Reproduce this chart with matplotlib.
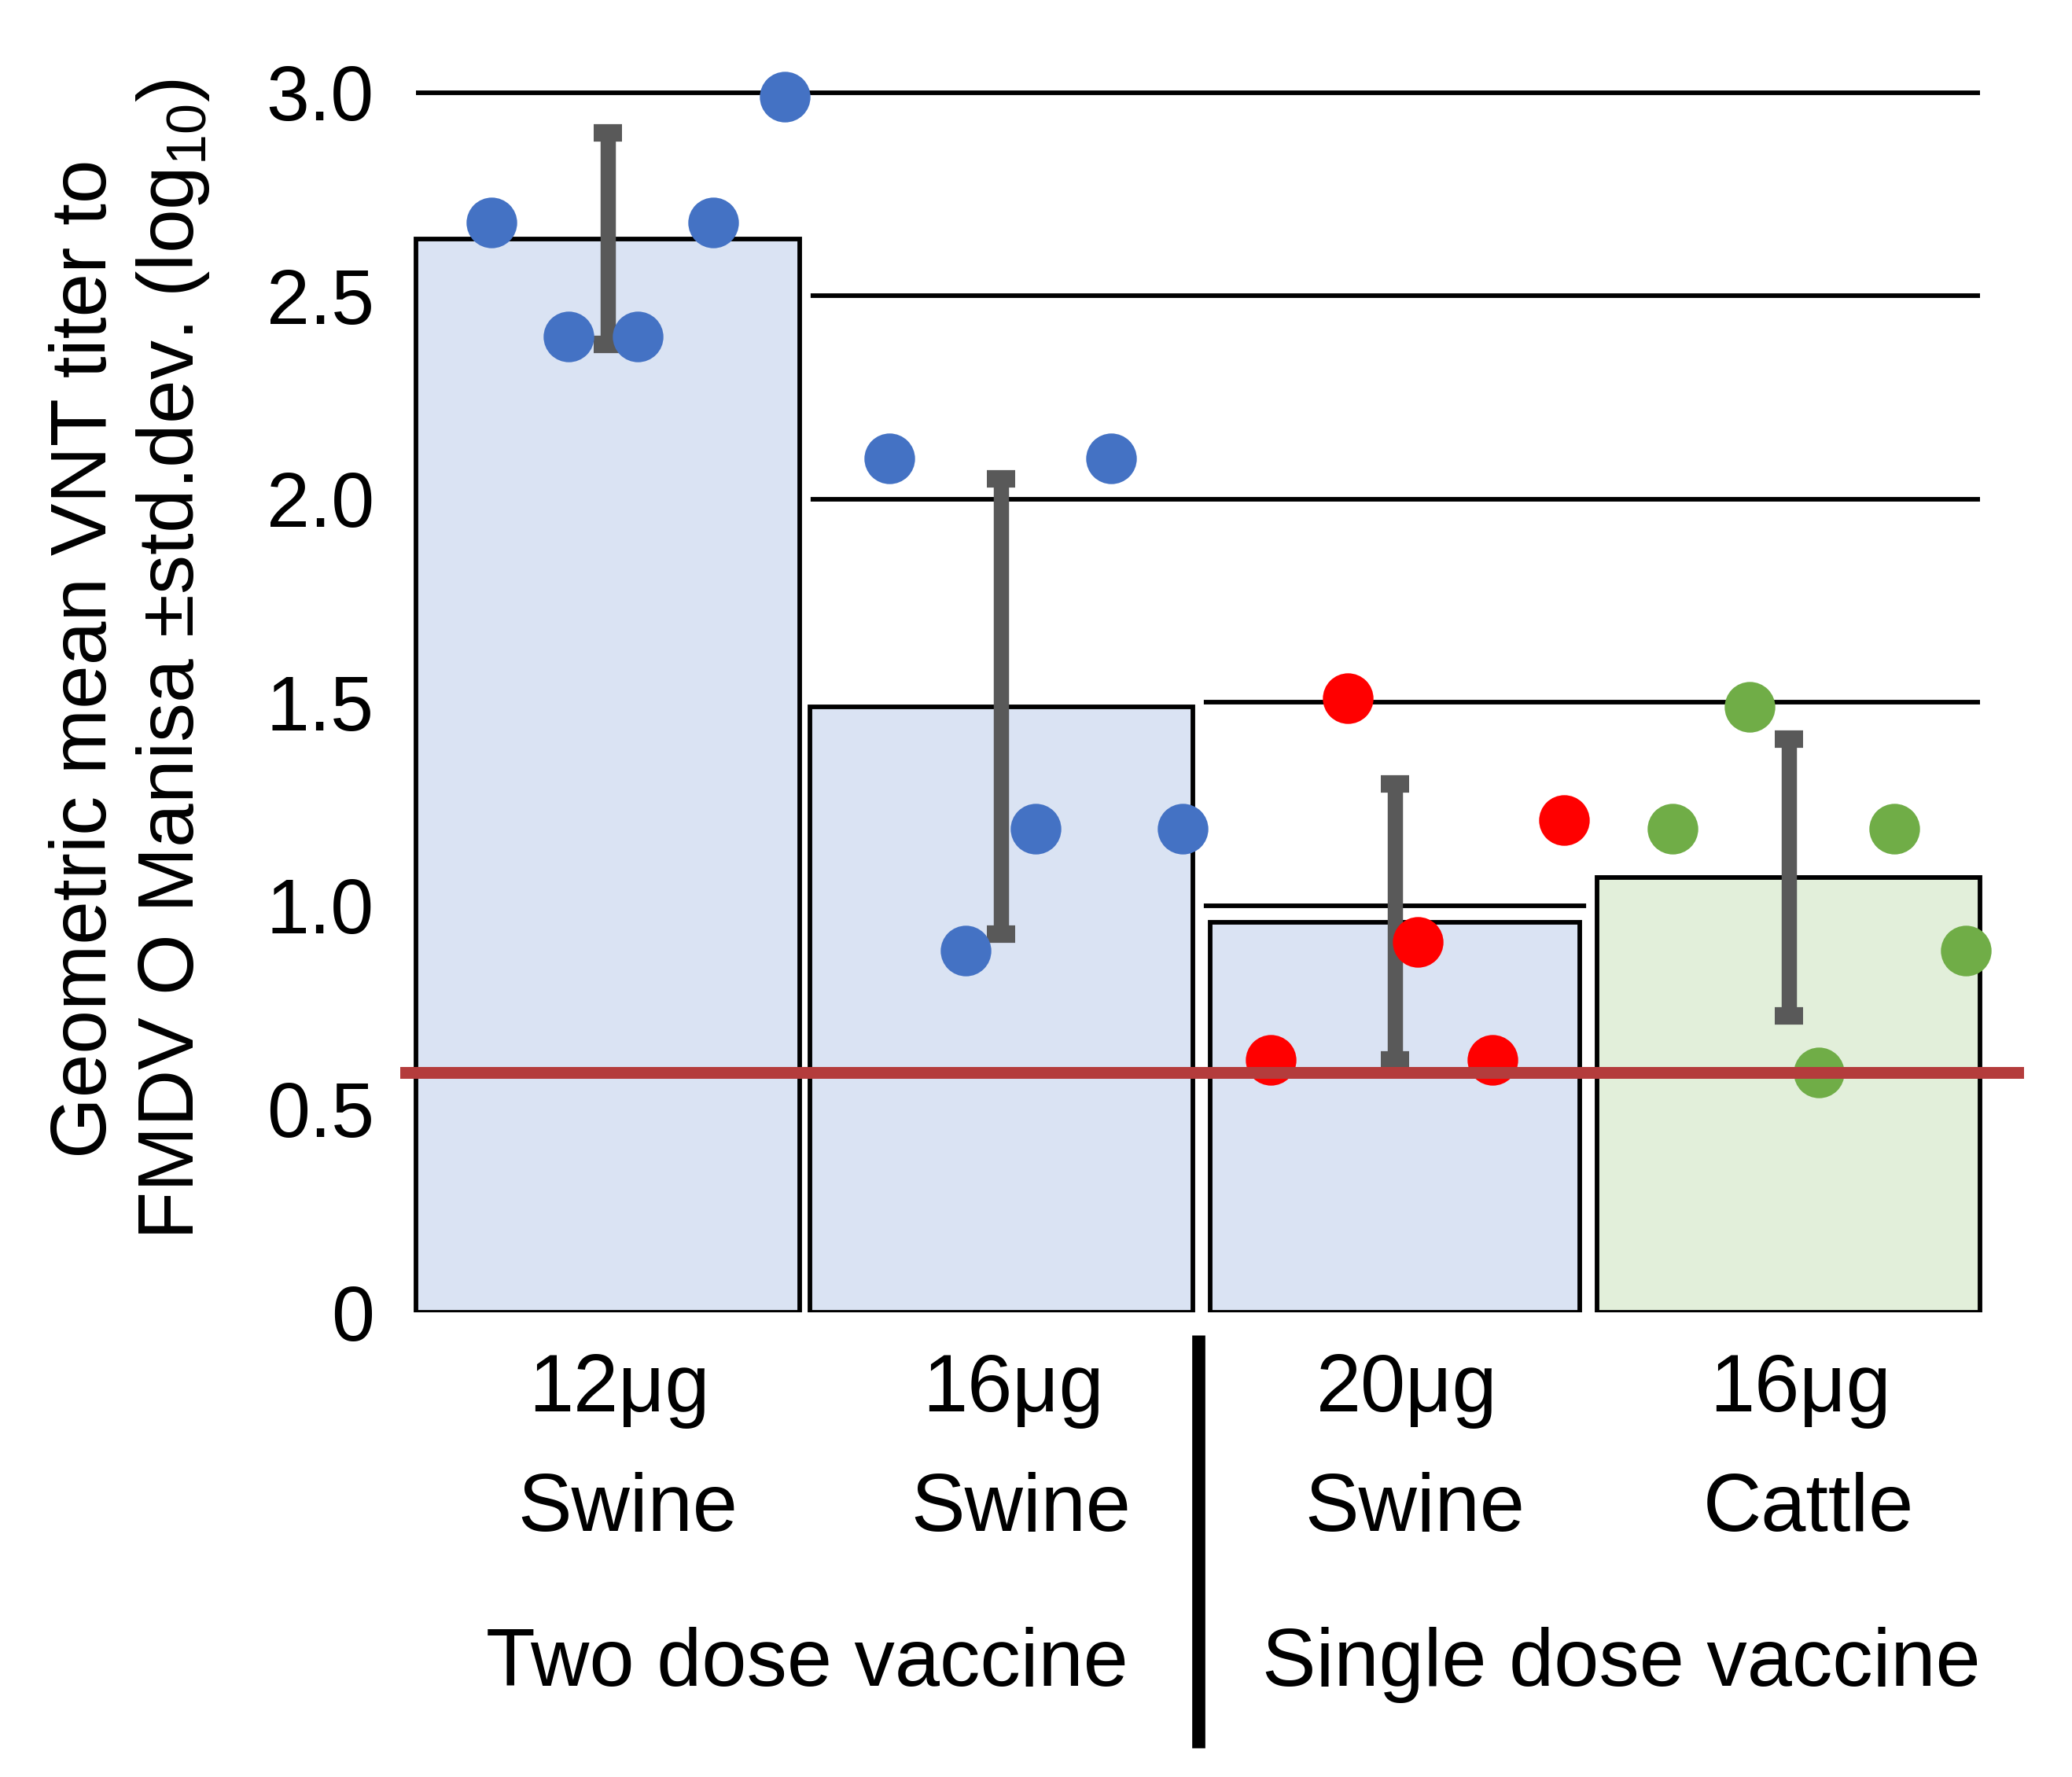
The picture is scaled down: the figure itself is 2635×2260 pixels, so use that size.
# VNT titers after FMDV O Manisa vaccination - bar + dot chart

import matplotlib
matplotlib.use("Agg")
import matplotlib.pyplot as plt
import matplotlib.transforms as mtransforms
import numpy as np

plt.rcParams['font.family'] = ['Liberation Sans', 'DejaVu Sans']
plt.rcParams['mathtext.fontset'] = 'custom'
plt.rcParams['mathtext.rm'] = 'Liberation Sans'

# data (log10 titers)
doses = ['12μg', '16μg', '20μg', '16μg']
species = ['Swine', 'Swine', 'Swine', 'Cattle']
groups = ['Two dose vaccine', 'Single dose vaccine']
gmt_mean = [2.64, 1.49, 0.96, 1.07]
gmt_sd = [0.26, 0.56, 0.34, 0.34]
swine_12 = [2.68, 2.40, 2.40, 2.68, 2.99]
swine_16 = [2.10, 0.89, 1.19, 2.10, 1.19]
swine_20 = [0.62, 1.51, 0.91, 0.62, 1.21]
cattle_16 = [1.19, 1.49, 0.59, 1.19, 0.89]
threshold = 0.59
yticks = [0, 0.5, 1.0, 1.5, 2.0, 2.5, 3.0]
ytick_labels = ['0', '0.5', '1.0', '1.5', '2.0', '2.5', '3.0']

animals = [swine_12, swine_16, swine_20, cattle_16]
dot_colors = ['#4472C4', '#4472C4', '#FF0000', '#70AD47']
bar_colors = ['#DAE3F3', '#DAE3F3', '#DAE3F3', '#E2EFDA']
bar_widths = [0.974, 0.974, 0.94, 0.974]
dot_offsets = np.array([-0.295, -0.10, 0.077, 0.268, 0.45])
dot_shift = [0.0, 0.01, -0.02, 0.0]

fig = plt.figure(figsize=(26.35, 22.6), dpi=100)
ax = fig.add_axes([509/2635, 0.2615, 2065/2635, 0.7093])
ax.set_xlim(-0.527, 3.598)
ax.set_ylim(0, 3.1)

x = np.arange(len(doses))

# gridlines sit behind the bars
ax.hlines(yticks[1:], -0.4875, 3.486, color='black', lw=4.2, zorder=1)

# white outline hides gridlines in the gaps, then the real bars
ax.bar(x, gmt_mean, bar_widths, color=bar_colors, edgecolor='white', linewidth=20, zorder=2)
ax.bar(x, gmt_mean, bar_widths, color=bar_colors, edgecolor='black', linewidth=4.2, zorder=3)

ax.errorbar(x, gmt_mean, yerr=gmt_sd, fmt='none', ecolor='#595959',
            elinewidth=14, capsize=13, capthick=16, zorder=4)

for i, vals in enumerate(animals):
    ax.scatter(x[i] + dot_shift[i] + dot_offsets, vals, s=2150, color=dot_colors[i],
               linewidths=0, zorder=5, clip_on=False)

ax.axhline(threshold, color='#B43C3C', lw=10.8, zorder=6)

for s in ax.spines.values():
    s.set_visible(False)
ax.set_xticks([])
ax.set_yticks(yticks)
ax.set_yticklabels(ytick_labels, fontsize=71)
ax.tick_params(axis='y', length=0, pad=24)

# category labels below the axes
trans = mtransforms.blended_transform_factory(ax.transData, fig.transFigure)
for i in range(len(doses)):
    ax.text(x[i] + 0.03, 1 - 1795/2260, doses[i], transform=trans, ha='center',
            va='baseline', fontsize=74)
    ax.text(x[i] + 0.05, 1 - 1947/2260, species[i], transform=trans, ha='center',
            va='baseline', fontsize=74)
ax.text(0.507, 1 - 2144/2260, groups[0], transform=trans, ha='center',
        va='baseline', fontsize=74)
ax.text(2.575, 1 - 2144/2260, groups[1], transform=trans, ha='center',
        va='baseline', fontsize=74)
ax.plot([1.5, 1.5], [1 - 1698/2260, 1 - 2223/2260], transform=trans,
        color='black', lw=12, solid_capstyle='butt', clip_on=False)

fig.text(166/2635, 1 - 838/2260,
         'Geometric mean VNT titer to\nFMDV O Manisa ±std.dev. (log$_{10}$)',
         rotation=90, ha='center', va='center', multialignment='center',
         fontsize=72)

fig.savefig('out.png', dpi=100)
